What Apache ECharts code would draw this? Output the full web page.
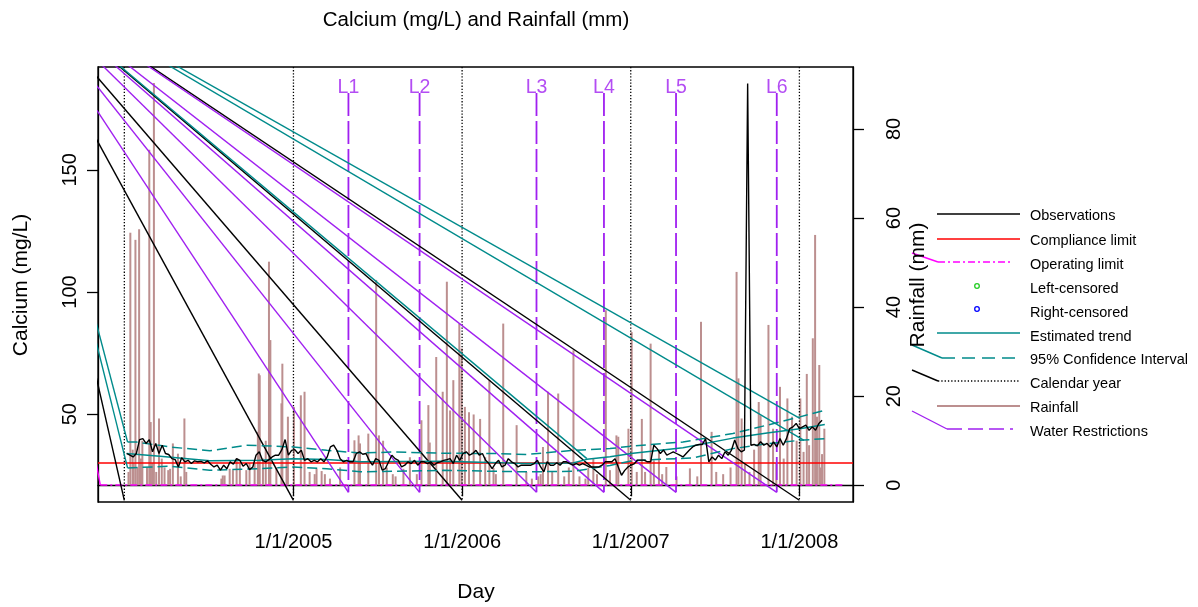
<!DOCTYPE html>
<html>
<head>
<meta charset="utf-8">
<script src="https://cdn.jsdelivr.net/npm/echarts@6/dist/echarts.min.js"></script>
<style>
  html, body { margin: 0; padding: 0; background: #fff; }
  #chart { width: 1198px; height: 607px; }
</style>
</head>
<body>
<div id="chart"></div>
<script>
// axis ranges
var xRange = ['2003-11-05', '2008-04-26'];
var calciumRange = [14.05, 192.1];
var rainRange = [-3.75, 93.9];
var calciumTicks = [50, 100, 150];
var rainTicks = [0, 20, 40, 60, 80];
var dateTicks = ['2005-01-01', '2006-01-01', '2007-01-01', '2008-01-01'];

// observations, one sample a week
var obsStart = '2004-01-06';
var obsStepDays = 7;
var obsValues = [
  33.9, 33.2, 32.5, 33.9, 39.6, 40.0, 38.0, 39.6, 34.6, 38.0,
  33.9, 37.3, 33.9, 33.5, 31.8, 31.4, 28.4, 32.2, 30.5, 31.1,
  29.8, 30.9, 30.5, 30.7, 30.1, 30.9, 29.5, 28.4, 29.1, 27.1,
  29.1, 27.7, 30.5, 29.5, 31.8, 31.1, 28.7, 29.8, 27.3, 28.4,
  33.2, 34.6, 31.1, 30.5, 31.4, 32.5, 33.2, 33.2, 35.5, 39.6,
  33.2, 35.2, 35.5, 33.9, 35.2, 31.1, 31.8, 30.5, 31.1, 30.5,
  31.8, 30.5, 32.5, 36.6, 37.3, 35.2, 31.8, 30.5, 31.1, 30.5,
  30.5, 33.9, 34.6, 33.6, 33.9, 31.1, 29.1,
  31.8, 31.1, 27.1, 27.7, 30.5, 33.2, 31.8, 31.1, 28.4, 29.1,
  30.5, 29.8, 31.1, 29.1, 30.5, 30.5, 29.8, 30.5, 29.1, 30.1,
  30.5, 31.1, 31.4, 31.8, 29.8, 33.2, 31.1, 33.9, 34.6, 33.2,
  33.9, 35.2, 33.2, 33.9, 31.1, 29.8, 27.7, 29.8, 31.1, 28.4,
  29.1, 31.8, 30.5, 29.8, 28.4, 29.1, 29.1, 29.1, 29.1, 29.8,
  31.1, 28.4, 26.4, 30.5, 29.1, 29.1, 30.1, 29.1, 30.5, 30.5,
  29.8, 29.1, 29.8, 29.1, 29.8, 29.1, 28.4, 28.4, 28.4, 28.4,
  29.1, 30.5, 30.5, 30.5,
  31.8, 28.4, 25.0, 27.0, 28.4, 29.1, 29.8, 31.2, 31.2, 31.2,
  30.5, 30.5, 37.3, 35.9, 33.9, 35.3, 33.2, 33.9, 34.6, 33.9,
  33.2, 32.5, 33.9, 35.3, 36.6, 37.3, 37.6, 37.6, 40.0, 30.5,
  32.5, 31.2, 33.2, 31.8, 34.6, 33.2, 35.3, 39.4, 35.9, 34.6,
  35.3, 185.3, 37.3, 37.6, 37.0, 38.7, 37.3, 38.0, 36.6, 38.7,
  36.6, 40.0, 37.3, 40.0, 44.1, 44.8, 46.2, 44.1, 44.8, 45.5,
  43.4, 44.8, 43.4, 46.2, 47.5
];

// estimated trend and 95% confidence interval
var trendDates = ['2004-01-06', '2004-03-18', '2004-07-04', '2004-10-20', '2004-12-31', '2005-03-14',
  '2005-05-26', '2005-11-21', '2006-05-21', '2006-08-29', '2006-09-28', '2006-11-17', '2007-01-06',
  '2007-04-24', '2007-08-10', '2007-10-23', '2008-01-02', '2008-02-25'];
var trendValues = [33.9, 32.8, 30.9, 31.1, 31.8, 31.4, 30.5, 30.7, 29.8, 30.0, 31.5, 32.6, 34.0,
  36.3, 40.2, 42.3, 44.0, 45.8];
var upperDates = ['2004-01-08', '2004-01-27', '2004-04-08', '2004-07-04', '2004-09-21', '2004-12-31',
  '2005-03-14', '2005-05-26', '2005-08-04', '2005-11-21', '2006-03-09', '2006-05-21', '2006-08-29',
  '2006-11-17', '2007-01-06', '2007-04-24', '2007-08-10', '2007-10-23', '2008-01-02', '2008-02-25'];
var upperValues = [38.6, 38.6, 36.6, 35.0, 37.3, 36.6, 35.2, 34.1, 34.5, 34.0, 33.9, 33.5, 35.2,
  35.9, 37.0, 38.6, 42.1, 45.5, 48.9, 51.6];
var lowerDates = ['2004-01-08', '2004-04-08', '2004-07-04', '2004-10-20', '2004-12-31', '2005-03-14',
  '2005-05-26', '2005-11-21', '2006-05-21', '2006-08-29', '2006-11-17', '2007-01-06', '2007-05-16',
  '2007-08-10', '2007-10-23', '2008-01-02', '2008-02-25'];
var lowerValues = [28.0, 28.7, 27.0, 27.7, 28.4, 27.7, 26.4, 27.0, 26.4, 26.6, 29.0, 31.0, 32.1,
  35.9, 37.9, 39.3, 40.0];

// daily rainfall (mm), rainy days only
var rainDates = [
  '2004-01-10', '2004-01-14', '2004-01-19', '2004-01-21', '2004-01-25', '2004-01-29', '2004-02-02', '2004-02-06', '2004-02-09', '2004-02-19',
  '2004-02-24', '2004-02-27', '2004-03-01', '2004-03-05', '2004-03-10', '2004-03-16', '2004-03-22', '2004-03-28', '2004-04-05', '2004-04-09',
  '2004-04-15', '2004-04-26', '2004-05-02', '2004-05-10', '2004-05-14', '2004-07-29', '2004-08-01', '2004-08-05', '2004-08-16', '2004-08-23',
  '2004-08-31', '2004-09-07', '2004-09-21', '2004-09-28', '2004-10-09', '2004-10-16', '2004-10-18', '2004-10-20', '2004-10-27', '2004-11-02',
  '2004-11-09', '2004-11-12', '2004-11-25', '2004-12-06', '2004-12-08', '2004-12-17', '2004-12-20', '2005-01-02', '2005-01-17', '2005-01-25',
  '2005-02-05', '2005-02-16', '2005-02-20', '2005-03-03', '2005-03-10', '2005-03-21', '2005-04-12', '2005-05-13', '2005-05-22', '2005-05-25',
  '2005-06-12', '2005-06-29', '2005-07-05', '2005-07-14', '2005-07-22', '2005-08-04', '2005-08-10', '2005-08-27', '2005-09-10', '2005-09-25',
  '2005-10-05', '2005-10-20', '2005-10-23', '2005-11-06', '2005-11-20', '2005-11-29', '2005-12-06', '2005-12-13', '2005-12-26', '2005-12-31',
  '2006-01-07', '2006-01-16', '2006-01-26', '2006-02-09', '2006-02-20', '2006-03-01', '2006-03-10', '2006-03-15', '2006-03-31', '2006-04-29',
  '2006-05-20', '2006-06-01', '2006-06-15', '2006-06-20', '2006-06-25', '2006-07-06', '2006-07-15', '2006-07-28', '2006-08-10', '2006-08-20',
  '2006-08-30', '2006-09-12', '2006-09-25', '2006-10-01', '2006-10-12', '2006-10-20', '2006-11-08', '2006-11-17', '2006-12-01', '2006-12-05',
  '2006-12-27', '2007-01-03', '2007-01-14', '2007-01-25', '2007-02-01', '2007-02-13', '2007-02-20', '2007-03-03', '2007-03-10', '2007-03-19',
  '2007-04-10', '2007-05-09', '2007-05-25', '2007-06-02', '2007-06-25', '2007-07-05', '2007-07-20', '2007-08-05', '2007-08-18', '2007-08-22',
  '2007-08-29', '2007-09-05', '2007-09-15', '2007-09-25', '2007-10-05', '2007-10-09', '2007-10-26', '2007-11-05', '2007-11-12', '2007-11-20',
  '2007-11-28', '2007-12-06', '2007-12-16', '2007-12-26', '2008-01-03', '2008-01-10', '2008-01-17', '2008-01-22', '2008-01-30', '2008-02-04',
  '2008-02-08', '2008-02-13', '2008-02-16', '2008-02-19', '2008-02-24'
];
var rainMm = [
  3, 56.7, 8, 5, 55.1, 4, 57.5, 6, 10, 4,
  75.3, 14.2, 5, 90.3, 3, 15.0, 6, 4, 3.4, 3.7,
  9.4, 7.1, 2, 15.0, 3, 1.5, 2.2, 2.2, 3.7, 3.4,
  6.0, 4.8, 3.4, 5, 4.9, 12, 25.1, 24.7, 6, 10,
  50.2, 32.6, 4, 18.4, 27.3, 8.7, 15.4, 17.6, 20.2, 21.0,
  3, 2.5, 3.7, 3.2, 2.5, 1.5, 4, 10.1, 11.2, 9.4,
  11.6, 46.1, 11.2, 10, 4, 2.5, 2, 3.7, 6.3, 2.5,
  14.6, 18, 9.6, 28.8, 21.0, 45.7, 16.8, 23.6, 36.3, 30.7,
  17.6, 16.4, 15.9, 14.9, 6.3, 23.6, 3.9, 2.5, 36.3, 13.5,
  3, 1.5, 2, 2.5, 8.6, 21.0, 3, 20.6, 2, 4,
  30.3, 2, 1.5, 3.9, 6.1, 2.5, 39.3, 3.4, 11.2, 10.9,
  12.7, 34.4, 3, 14.9, 3, 31.8, 5.6, 7.9, 2.5, 4.1,
  2, 3.8, 2, 36.7, 12, 3, 2.5, 4, 47.9, 24.0,
  15, 5, 3, 8, 18.7, 15.7, 36.0, 12.7, 5, 22.1,
  6, 19.5, 15.4, 10, 19.5, 7.5, 25, 9, 33.0, 56.2,
  15.4, 27, 4, 7, 12.7
];

var complianceLimit = 30;
var operatingLimit = 21;
var operatingSpan = ['2003-11-10', '2008-04-09'];
var calendarYears = ['2004-01-01', '2005-01-01', '2006-01-01', '2007-01-01', '2008-01-01'];
var yearLineBottom = 14.75;
var restrictionDates = ['2005-04-30', '2005-10-01', '2006-06-11', '2006-11-04', '2007-04-09', '2007-11-13'];
var restrictionLabels = ['L1', 'L2', 'L3', 'L4', 'L5', 'L6'];
var restrictionSpan = [181.5, 18.0];
var restrictionLabelAt = 183.5;

// stray segments: every dashed line also got a stroke from one far point
var strayOrigin = ['2003-04-13', 232.8];
var strayTealEnds = [['2004-01-08', 38.6], ['2004-01-08', 28.0], ['2006-09-28', 31.8],
  ['2008-01-01', 48.4], ['2008-01-11', 39.3]];

var FONT = 'Liberation Sans';
var TEAL = '#008B8B', PURPLE = '#A020F0', MAGENTA = '#FF00FF', ROSY = '#BC8F8F';

function t(s) { return new Date(s + 'T00:00:00').getTime(); }
function pairs(dates, vals) { return dates.map(function (d, i) { return [t(d), vals[i]]; }); }
function fmtDate(v) { var d = new Date(v); return (d.getMonth() + 1) + '/' + d.getDate() + '/' + d.getFullYear(); }

function seg(data, color, width, dash, z, yIdx) {
  return {
    type: 'line', data: data, yAxisIndex: yIdx || 0, symbol: 'none', silent: true, clip: true,
    z: z || 3, lineStyle: { color: color, width: width, type: dash || 'solid' }
  };
}

var obsData = obsValues.map(function (v, i) { return [t(obsStart) + i * obsStepDays * 864e5, v]; });

var series = [];
series.push({
  type: 'bar', yAxisIndex: 1, data: pairs(rainDates, rainMm), barWidth: 2, silent: true, z: 1,
  itemStyle: { color: ROSY }
});
calendarYears.forEach(function (d) {
  series.push(seg([[t(d), calciumRange[1]], [t(d), yearLineBottom]], '#000', 1.3, [1.3, 1.8], 2));
});
series.push(seg([[t(xRange[0]), complianceLimit], [t(xRange[1]), complianceLimit]], '#FF0000', 1.4, 'solid', 2));
series.push(seg([[t(operatingSpan[0]), operatingLimit], [t(operatingSpan[1]), operatingLimit]], MAGENTA, 1.6, [7, 3, 2, 3], 2));
restrictionDates.forEach(function (d) {
  series.push(seg([[t(d), restrictionSpan[0]], [t(d), restrictionSpan[1]]], PURPLE, 1.8, [23, 5], 2));
});
series.push(seg(pairs(upperDates, upperValues), TEAL, 1.5, [10, 5], 4));
series.push(seg(pairs(lowerDates, lowerValues), TEAL, 1.5, [10, 5], 4));
series.push(seg(pairs(trendDates, trendValues), TEAL, 1.5, 'solid', 4));
series.push(seg(obsData, '#000', 1.4, 'solid', 5));

// stray strokes
var o = [t(strayOrigin[0]), strayOrigin[1]];
calendarYears.forEach(function (d) { series.push(seg([o, [t(d), yearLineBottom]], '#000', 1.4, 'solid', 3)); });
restrictionDates.forEach(function (d) { series.push(seg([o, [t(d), restrictionSpan[1]]], PURPLE, 1.4, 'solid', 3)); });
strayTealEnds.forEach(function (p) { series.push(seg([o, [t(p[0]), p[1]]], TEAL, 1.4, 'solid', 3)); });
series.push(seg([o, [t(operatingSpan[0]), operatingLimit]], MAGENTA, 1.4, 'solid', 3));

// restriction labels
series.push({
  type: 'scatter', silent: true, z: 6, symbolSize: 1, itemStyle: { color: 'rgba(0,0,0,0)' },
  data: restrictionDates.map(function (d, i) { return { name: restrictionLabels[i], value: [t(d), restrictionLabelAt] }; }),
  label: { show: true, position: 'inside', formatter: '{b}', color: PURPLE, fontSize: 19.5, fontFamily: FONT }
});

// legend, drawn by hand
var legendItems = [
  { text: 'Observations', y: 216, line: { y: 214, x1: 937, x2: 1020, color: '#000' } },
  { text: 'Compliance limit', y: 241, line: { y: 239, x1: 937, x2: 1020, color: '#FF0000' } },
  { text: 'Operating limit', y: 265, line: { y: 262, x1: 938, x2: 1013, color: MAGENTA, dash: [7, 3, 2, 3] }, stray: [912, 253, 938, 262] },
  { text: 'Left-censored', y: 289, circle: { y: 286, color: '#22CC22' } },
  { text: 'Right-censored', y: 313, circle: { y: 309, color: '#0000FF' } },
  { text: 'Estimated trend', y: 337, line: { y: 333, x1: 937, x2: 1020, color: TEAL } },
  { text: '95% Confidence Interval', y: 360, line: { y: 358, x1: 942, x2: 1017, color: TEAL, dash: [13, 7] }, stray: [912, 345, 942, 358] },
  { text: 'Calendar year', y: 384, line: { y: 381, x1: 938, x2: 1020, color: '#000', dash: [1.3, 2] }, stray: [912, 370, 938, 381] },
  { text: 'Rainfall', y: 408, line: { y: 406, x1: 937, x2: 1020, color: ROSY, width: 2 } },
  { text: 'Water Restrictions', y: 432, line: { y: 429, x1: 947, x2: 1013, color: PURPLE, dash: [15, 6] }, stray: [912, 411, 947, 429] }
];
var graphics = [];
legendItems.forEach(function (it) {
  graphics.push({ type: 'text', x: 1030, y: it.y, style: { text: it.text, font: '14.5px ' + FONT, fill: '#000', textAlign: 'left', textVerticalAlign: 'middle', align: 'left', verticalAlign: 'middle' } });
  if (it.line) {
    graphics.push({ type: 'line', shape: { x1: it.line.x1, y1: it.line.y, x2: it.line.x2, y2: it.line.y },
      style: { stroke: it.line.color, lineWidth: it.line.width || 1.4, lineDash: it.line.dash || null } });
  }
  if (it.stray) {
    graphics.push({ type: 'line', shape: { x1: it.stray[0], y1: it.stray[1], x2: it.stray[2], y2: it.stray[3] },
      style: { stroke: it.line.color, lineWidth: 1.4 } });
  }
  if (it.circle) {
    graphics.push({ type: 'circle', shape: { cx: 977, cy: it.circle.y, r: 2.3 }, style: { fill: 'none', stroke: it.circle.color, lineWidth: 1.3 } });
  }
});
// titles
graphics.push({ type: 'text', x: 476, y: 20, style: { text: 'Calcium (mg/L) and Rainfall (mm)', font: '20.5px ' + FONT, fill: '#000', textAlign: 'center', textVerticalAlign: 'middle', align: 'center', verticalAlign: 'middle' } });
graphics.push({ type: 'text', x: 476, y: 592, style: { text: 'Day', font: '21px ' + FONT, fill: '#000', textAlign: 'center', textVerticalAlign: 'middle', align: 'center', verticalAlign: 'middle' } });
graphics.push({ type: 'text', x: 21, y: 285, rotation: Math.PI / 2, style: { text: 'Calcium (mg/L)', font: '21px ' + FONT, fill: '#000', textAlign: 'center', textVerticalAlign: 'middle', align: 'center', verticalAlign: 'middle' } });
graphics.push({ type: 'text', x: 918, y: 285, rotation: Math.PI / 2, style: { text: 'Rainfall (mm)', font: '21px ' + FONT, fill: '#000', textAlign: 'center', textVerticalAlign: 'middle', align: 'center', verticalAlign: 'middle' } });

var tickStyle = { show: true, length: 11, lineStyle: { color: '#000', width: 1.3 } };
var chart = echarts.init(document.getElementById('chart'), null, { renderer: 'canvas' });
chart.setOption({
  animation: false,
  backgroundColor: '#fff',
  grid: { left: 98, top: 67, width: 755, height: 435, show: true, borderColor: '#000', borderWidth: 1.3, backgroundColor: 'transparent', outerBoundsMode: 'none' },
  xAxis: {
    type: 'value', min: t(xRange[0]), max: t(xRange[1]),
    splitLine: { show: false },
    axisLine: { show: true, lineStyle: { color: '#000', width: 1.3 } },
    axisTick: Object.assign({ customValues: dateTicks.map(t) }, tickStyle),
    axisLabel: { customValues: dateTicks.map(t), formatter: fmtDate, margin: 30, fontSize: 20, color: '#000', fontFamily: FONT }
  },
  yAxis: [{
    type: 'value', position: 'left', min: calciumRange[0], max: calciumRange[1],
    splitLine: { show: false },
    axisLine: { show: true, lineStyle: { color: '#000', width: 1.3 } },
    axisTick: Object.assign({ customValues: calciumTicks }, tickStyle),
    axisLabel: { customValues: calciumTicks, rotate: 90, margin: 18, fontSize: 20, color: '#000', fontFamily: FONT }
  }, {
    type: 'value', position: 'right', min: rainRange[0], max: rainRange[1],
    splitLine: { show: false },
    axisLine: { show: true, lineStyle: { color: '#000', width: 1.3 } },
    axisTick: Object.assign({ customValues: rainTicks }, tickStyle),
    axisLabel: { customValues: rainTicks, rotate: 90, margin: 31, fontSize: 20, color: '#000', fontFamily: FONT }
  }],
  graphic: graphics,
  series: series
});
</script>
</body>
</html>
